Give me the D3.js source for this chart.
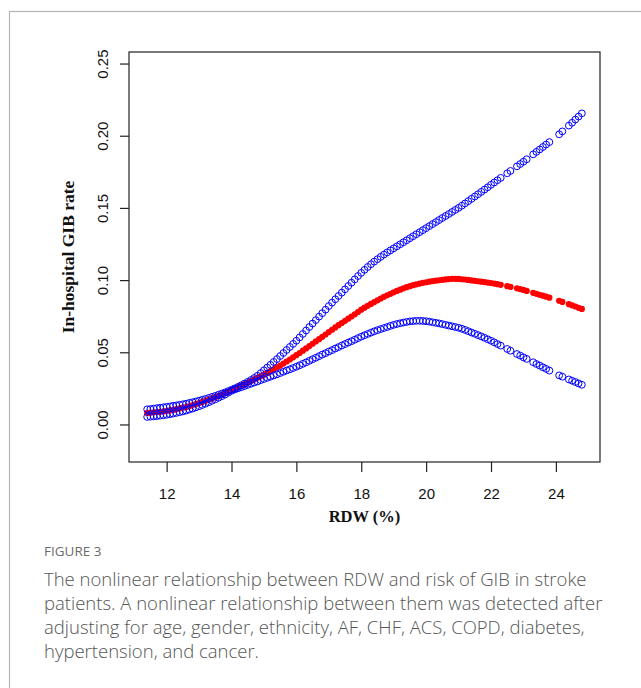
<!DOCTYPE html>
<html>
<head>
<meta charset="utf-8">
<script src="https://cdn.jsdelivr.net/npm/d3@7"></script>
<style>
  html, body { margin: 0; padding: 0; background: #fff; }
  svg { display: block; }
</style>
</head>
<body>
<div id="chart"></div>
<script>
// RDW values (%) that appear in the plot
const rdw = [
  11.4, 11.5, 11.6, 11.7, 11.8, 11.9, 12.0, 12.1, 12.2, 12.3, 12.4, 12.5, 12.6, 12.7, 12.8, 12.9,
  13.0, 13.1, 13.2, 13.3, 13.4, 13.5, 13.6, 13.7, 13.8, 13.9, 14.0, 14.1, 14.2, 14.3, 14.4, 14.5,
  14.6, 14.7, 14.8, 14.9, 15.0, 15.1, 15.2, 15.3, 15.4, 15.5, 15.6, 15.7, 15.8, 15.9, 16.0, 16.1,
  16.2, 16.3, 16.4, 16.5, 16.6, 16.7, 16.8, 16.9, 17.0, 17.1, 17.2, 17.3, 17.4, 17.5, 17.6, 17.7,
  17.8, 17.9, 18.0, 18.1, 18.2, 18.3, 18.4, 18.5, 18.6, 18.7, 18.8, 18.9, 19.0, 19.1, 19.2, 19.3,
  19.4, 19.5, 19.6, 19.7, 19.8, 19.9, 20.0, 20.1, 20.2, 20.3, 20.4, 20.5, 20.6, 20.7, 20.8, 20.9,
  21.0, 21.1, 21.2, 21.3, 21.4, 21.5, 21.6, 21.7, 21.8, 21.9, 22.0, 22.1, 22.2, 22.3,
  22.5, 22.6, 22.8, 22.9, 23.0, 23.1, 23.3, 23.4, 23.5, 23.6, 23.7, 23.8,
  24.1, 24.2, 24.4, 24.5, 24.6, 24.7, 24.8
];

// upper 95% CI
const upper = [
  0.0105, 0.0107, 0.0110, 0.0113, 0.0116, 0.0119, 0.0122, 0.0125, 0.0129, 0.0132, 0.0136, 0.0140, 0.0144, 0.0149, 0.0154, 0.0159,
  0.0165, 0.0171, 0.0177, 0.0184, 0.0191, 0.0198, 0.0206, 0.0214, 0.0222, 0.0231, 0.0240, 0.0250, 0.0260, 0.0271, 0.0283, 0.0295,
  0.0308, 0.0322, 0.0337, 0.0356, 0.0375, 0.0394, 0.0413, 0.0433, 0.0453, 0.0474, 0.0495, 0.0516, 0.0537, 0.0558, 0.0580, 0.0603,
  0.0627, 0.0651, 0.0675, 0.0699, 0.0723, 0.0747, 0.0771, 0.0795, 0.0820, 0.0844, 0.0867, 0.0890, 0.0913, 0.0936, 0.0959, 0.0982,
  0.1005, 0.1028, 0.1050, 0.1071, 0.1091, 0.1110, 0.1128, 0.1145, 0.1161, 0.1177, 0.1192, 0.1206, 0.1220, 0.1234, 0.1248, 0.1262,
  0.1276, 0.1290, 0.1304, 0.1318, 0.1332, 0.1346, 0.1360, 0.1374, 0.1388, 0.1402, 0.1416, 0.1430, 0.1444, 0.1458, 0.1472, 0.1486,
  0.1500, 0.1515, 0.1531, 0.1547, 0.1563, 0.1579, 0.1595, 0.1611, 0.1627, 0.1643, 0.1660, 0.1676, 0.1692, 0.1708,
  0.1740, 0.1756, 0.1788, 0.1804, 0.1820, 0.1837, 0.1871, 0.1888, 0.1905, 0.1922, 0.1939, 0.1956,
  0.2010, 0.2030, 0.2070, 0.2090, 0.2112, 0.2133, 0.2155
];

// fitted rate
const fit = [
  0.0080, 0.0082, 0.0084, 0.0086, 0.0088, 0.0090, 0.0093, 0.0097, 0.0101, 0.0106, 0.0111, 0.0116, 0.0121, 0.0127, 0.0134, 0.0141,
  0.0148, 0.0156, 0.0164, 0.0172, 0.0180, 0.0189, 0.0198, 0.0207, 0.0217, 0.0227, 0.0238, 0.0248, 0.0258, 0.0268, 0.0279, 0.0290,
  0.0301, 0.0312, 0.0323, 0.0334, 0.0345, 0.0357, 0.0369, 0.0382, 0.0395, 0.0408, 0.0422, 0.0436, 0.0450, 0.0465, 0.0480, 0.0495,
  0.0511, 0.0527, 0.0543, 0.0559, 0.0575, 0.0591, 0.0607, 0.0623, 0.0640, 0.0656, 0.0672, 0.0688, 0.0703, 0.0718, 0.0733, 0.0748,
  0.0763, 0.0779, 0.0795, 0.0809, 0.0822, 0.0835, 0.0848, 0.0860, 0.0872, 0.0884, 0.0895, 0.0905, 0.0915, 0.0925, 0.0934, 0.0943,
  0.0951, 0.0958, 0.0965, 0.0971, 0.0976, 0.0981, 0.0985, 0.0989, 0.0993, 0.0996, 0.0999, 0.1002, 0.1005, 0.1007, 0.1009, 0.1009,
  0.1008, 0.1006, 0.1004, 0.1001, 0.0998, 0.0995, 0.0992, 0.0989, 0.0986, 0.0983, 0.0980, 0.0976, 0.0972, 0.0967,
  0.0958, 0.0953, 0.0943, 0.0938, 0.0932, 0.0925, 0.0912, 0.0905, 0.0898, 0.0892, 0.0885, 0.0878,
  0.0857, 0.0849, 0.0833, 0.0825, 0.0817, 0.0808, 0.0800
];

// lower 95% CI
const lower = [
  0.0052, 0.0054, 0.0056, 0.0058, 0.0061, 0.0064, 0.0067, 0.0071, 0.0075, 0.0080, 0.0085, 0.0090, 0.0096, 0.0103, 0.0110, 0.0118,
  0.0126, 0.0135, 0.0144, 0.0154, 0.0164, 0.0174, 0.0185, 0.0196, 0.0207, 0.0220, 0.0233, 0.0242, 0.0250, 0.0258, 0.0266, 0.0274,
  0.0282, 0.0290, 0.0298, 0.0307, 0.0315, 0.0323, 0.0331, 0.0339, 0.0347, 0.0356, 0.0365, 0.0374, 0.0382, 0.0391, 0.0400, 0.0410,
  0.0420, 0.0430, 0.0441, 0.0452, 0.0462, 0.0473, 0.0484, 0.0494, 0.0505, 0.0515, 0.0526, 0.0536, 0.0547, 0.0557, 0.0567, 0.0577,
  0.0587, 0.0598, 0.0608, 0.0618, 0.0627, 0.0636, 0.0645, 0.0653, 0.0661, 0.0668, 0.0675, 0.0683, 0.0690, 0.0696, 0.0701, 0.0706,
  0.0710, 0.0714, 0.0716, 0.0718, 0.0718, 0.0717, 0.0715, 0.0712, 0.0708, 0.0704, 0.0700, 0.0695, 0.0690, 0.0685, 0.0680, 0.0675,
  0.0670, 0.0663, 0.0655, 0.0646, 0.0637, 0.0628, 0.0619, 0.0610, 0.0600, 0.0590, 0.0580, 0.0569, 0.0557, 0.0546,
  0.0523, 0.0511, 0.0488, 0.0477, 0.0465, 0.0454, 0.0431, 0.0419, 0.0408, 0.0396, 0.0385, 0.0373,
  0.0340, 0.0331, 0.0312, 0.0303, 0.0294, 0.0284, 0.0275
];

const xTicks = [12, 14, 16, 18, 20, 22, 24];
const yTicks = [0.00, 0.05, 0.10, 0.15, 0.20, 0.25];

const captionHead = "FIGURE 3";
const captionLines = [
  "The nonlinear relationship between RDW and risk of GIB in stroke",
  "patients. A nonlinear relationship between them was detected after",
  "adjusting for age, gender, ethnicity, AF, CHF, ACS, COPD, diabetes,",
  "hypertension, and cancer."
];

const width = 641, height = 688;
const box = { left: 129, right: 600, top: 52, bottom: 462 };

const svg = d3.select("#chart").append("svg")
  .attr("width", width)
  .attr("height", height);

svg.append("rect").attr("width", width).attr("height", height).attr("fill", "#fff");

// outer figure frame (runs off the right and bottom)
svg.append("rect")
  .attr("x", 9.5).attr("y", 11.5)
  .attr("width", 700).attr("height", 700)
  .attr("fill", "none")
  .attr("stroke", "#b4b4b4")
  .attr("stroke-width", 1.2);

const x = d3.scaleLinear().domain([10.84, 25.36]).range([box.left, box.right]);
const y = d3.scaleLinear().domain([-0.026, 0.258]).range([box.bottom, box.top]);

const pts = rdw.map((v, i) => ({ x: v, up: upper[i], fit: fit[i], lo: lower[i] }));

// points
const gPts = svg.append("g");
gPts.append("g")
  .attr("fill", "#ff0000")
  .selectAll("circle")
  .data(pts)
  .join("circle")
  .attr("cx", (d) => x(d.x))
  .attr("cy", (d) => y(d.fit))
  .attr("r", 3.1);

["lo", "up"].forEach((k) => {
  gPts.append("g")
    .attr("fill", "none")
    .attr("stroke", "#0000ff")
    .attr("stroke-width", 1)
    .selectAll("circle")
    .data(pts)
    .join("circle")
    .attr("cx", (d) => x(d.x))
    .attr("cy", (d) => y(d[k]))
    .attr("r", 3.4);
});

// plot box
svg.append("rect")
  .attr("x", box.left).attr("y", box.top)
  .attr("width", box.right - box.left)
  .attr("height", box.bottom - box.top)
  .attr("fill", "none")
  .attr("stroke", "#222")
  .attr("stroke-width", 1.2);

// x axis
const xAxis = svg.append("g")
  .attr("transform", `translate(0,${box.bottom})`)
  .call(d3.axisBottom(x).tickValues(xTicks).tickSize(10).tickPadding(0).tickFormat(d3.format("d")));
xAxis.select(".domain").remove();
xAxis.selectAll(".tick line").attr("stroke", "#222").attr("stroke-width", 1.2);
xAxis.selectAll(".tick text")
  .attr("y", 37)
  .attr("dy", null)
  .attr("fill", "#111")
  .style("font-family", "'Liberation Sans', Arial, sans-serif")
  .style("font-size", "15px");

// y axis
const yAxis = svg.append("g")
  .attr("transform", `translate(${box.left},0)`)
  .call(d3.axisLeft(y).tickValues(yTicks).tickSize(9).tickFormat(d3.format(".2f")));
yAxis.select(".domain").remove();
yAxis.selectAll(".tick line").attr("stroke", "#222").attr("stroke-width", 1.2);
yAxis.selectAll(".tick text")
  .attr("x", null).attr("dy", null)
  .attr("text-anchor", "middle")
  .attr("transform", "translate(-21,0) rotate(-90)")
  .attr("fill", "#111")
  .style("font-family", "'Liberation Sans', Arial, sans-serif")
  .style("font-size", "15px");

// axis titles
svg.append("text")
  .attr("x", (box.left + box.right) / 2)
  .attr("y", 522)
  .attr("text-anchor", "middle")
  .style("font-family", "'Liberation Serif', 'Times New Roman', serif")
  .style("font-weight", "bold")
  .style("font-size", "16.5px")
  .attr("fill", "#111")
  .text("RDW (%)");

svg.append("text")
  .attr("transform", `translate(74,${(box.top + box.bottom) / 2}) rotate(-90)`)
  .attr("text-anchor", "middle")
  .style("font-family", "'Liberation Serif', 'Times New Roman', serif")
  .style("font-weight", "bold")
  .style("font-size", "17.5px")
  .attr("fill", "#111")
  .text("In-hospital GIB rate");

// caption
svg.append("text")
  .attr("x", 44).attr("y", 556)
  .style("font-family", "'Open Sans', sans-serif")
  .style("font-size", "13.5px")
  .attr("fill", "#6b6b6b")
  .text(captionHead);

svg.append("g")
  .selectAll("text")
  .data(captionLines)
  .join("text")
  .attr("x", 44)
  .attr("y", (d, i) => 586 + i * 24)
  .style("font-family", "'Open Sans', sans-serif")
  .style("font-size", "18.5px")
  .style("font-weight", 300)
  .attr("fill", "#555")
  .text((d) => d);
</script>
</body>
</html>
